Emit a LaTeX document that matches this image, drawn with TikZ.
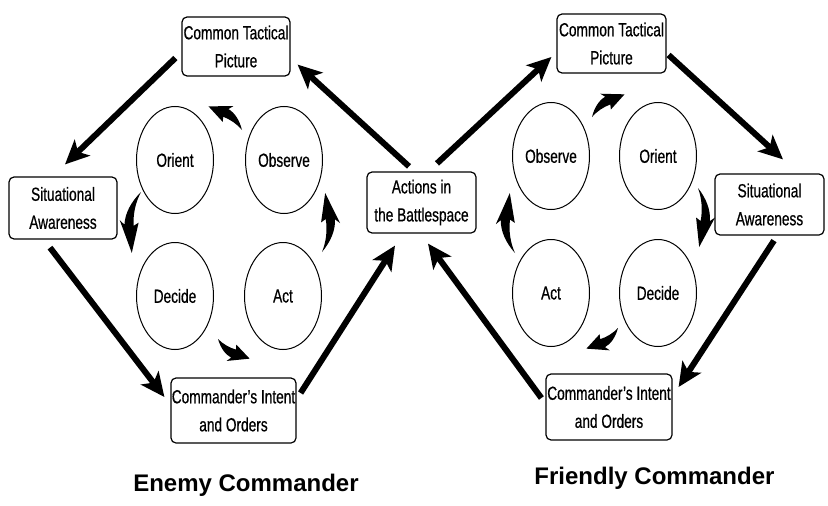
\documentclass[tikz,border=0pt]{standalone}
\usepackage{fontspec}
\usetikzlibrary{calc,arrows.meta,shapes.geometric}
\newfontfamily\nfont[FakeStretch=0.72,FakeBold=0.6]{Liberation Sans}
\newfontfamily\capfont{Liberation Sans}
\tikzset{
 lbl/.style={font={\nfont\fontsize{19}{28}\selectfont}, align=center},
 tbox/.style={lbl, draw, rounded corners=5pt, line width=1.2pt, inner sep=0pt},
 ell/.style={lbl, draw, ellipse, line width=1pt, minimum width=77pt, minimum height=107pt, inner sep=0pt},
 big/.style={line width=6pt, -{Stealth[length=24pt,width=22pt,inset=6pt]}},
 captxt/.style={font={\capfont\bfseries\fontsize{24}{28}\selectfont}}
}
% curved tapered arrow: #1 tail, #2 tip, #3 bulge side angle, #4 opposite angle
\newcommand\swoosh[4]{%
 \fill[black]
  (#1)
  .. controls ($(#1)!0.18!(#2)+(#1)!0.10!#3:(#2)+(#1)!2.5pt!#3:(#2)-2*(#1)$)
  and ($(#1)!0.38!(#2)+(#1)!0.14!#3:(#2)+(#1)!4.5pt!#3:(#2)-2*(#1)$)
  .. ($(#1)!0.56!(#2)+(#1)!0.12!#3:(#2)+(#1)!4.8pt!#3:(#2)-2*(#1)$)
  -- ($(#1)!0.50!(#2)+(#1)!0.12!#3:(#2)+(#1)!10pt!#3:(#2)-2*(#1)$)
  -- ($(#1)!1!(#2)+(#1)!0.02!#3:(#2)-(#1)$)
  -- ($(#1)!0.50!(#2)+(#1)!0.12!#3:(#2)+(#1)!9pt!#4:(#2)-2*(#1)$)
  -- ($(#1)!0.56!(#2)+(#1)!0.12!#3:(#2)+(#1)!4.5pt!#4:(#2)-2*(#1)$)
  .. controls ($(#1)!0.38!(#2)+(#1)!0.14!#3:(#2)+(#1)!3.5pt!#4:(#2)-2*(#1)$)
  and ($(#1)!0.18!(#2)+(#1)!0.10!#3:(#2)+(#1)!2pt!#4:(#2)-2*(#1)$)
  .. (#1) -- cycle;
}
\begin{document}
\begin{tikzpicture}[x=1pt,y=1pt]
\fill[white] (0,0) rectangle (828,-506);
\useasboundingbox (0,0) rectangle (828,-506);
% boxes
\node[tbox, minimum width=108pt, minimum height=59pt] (ctpL) at (236,-46.5) {Common Tactical\\Picture};
\node[tbox, minimum width=108pt, minimum height=62pt] (saL) at (63,-208) {Situational\\Awareness};
\node[tbox, minimum width=109pt, minimum height=61pt] (act) at (421.5,-202.5) {Actions in\\the Battlespace};
\node[tbox, minimum width=125pt, minimum height=65pt] (cioL) at (233.5,-410.5) {Commander’s Intent\\and Orders};
\node[tbox, minimum width=109pt, minimum height=59pt] (ctpR) at (611.5,-43.5) {Common Tactical\\Picture};
\node[tbox, minimum width=109pt, minimum height=61pt] (saR) at (769.5,-204.5) {Situational\\Awareness};
\node[tbox, minimum width=126pt, minimum height=66pt] (cioR) at (609,-407) {Commander’s Intent\\and Orders};
% ellipses
\node[ell] (oriL) at (175,-160) {Orient};
\node[ell] (obsL) at (284,-160) {Observe};
\node[ell] (decL) at (175,-296) {Decide};
\node[ell] (actL) at (283,-296) {Act};
\node[ell] (obsR) at (551,-156) {Observe};
\node[ell] (oriR) at (658,-156) {Orient};
\node[ell] (actR) at (551,-293) {Act};
\node[ell] (decR) at (658,-293) {Decide};
% captions
\node[captxt] (capL) at (246,-485) {Enemy Commander};
\node[captxt] (capR) at (654.5,-478) {Friendly Commander};
% big arrows
\draw[big] ([shift={(-12.5,5)}]act.north) -- ([shift={(7,12)}]ctpL.south east);
\draw[big] ([shift={(-6,-11.5)}]ctpL.west) -- ([shift={(2,12)}]saL.north);
\draw[big] ([shift={(-13,-8)}]saL.south) -- ([shift={(-6,13.5)}]cioL.west);
\draw[big] ([shift={(4,17.5)}]cioL.east) -- ([shift={(-26.5,-12)}]act.south);
\draw[big] ([shift={(15.5,8)}]act.north) -- ([shift={(-5,-13.5)}]ctpR.west);
\draw[big] ([shift={(2,-11.5)}]ctpR.east) -- ([shift={(13.5,14)}]saR.north);
\draw[big] ([shift={(4.5,-5)}]saR.south) -- ([shift={(6,20)}]cioR.east);
\draw[big] ([shift={(-4,9)}]cioR.west) -- ([shift={(6.5,-10)}]act.south);
% small curved arrows
\coordinate (s1t) at (242,-130); \coordinate (s1h) at (208,-107);
\coordinate (s2t) at (141,-192); \coordinate (s2h) at (133,-253);
\coordinate (s3t) at (218,-339); \coordinate (s3h) at (250,-358);
\coordinate (s4t) at (322,-252); \coordinate (s4h) at (324,-193);
\coordinate (s5t) at (592,-117); \coordinate (s5h) at (625,-95);
\coordinate (s6t) at (698,-188); \coordinate (s6h) at (698,-247);
\coordinate (s7t) at (618,-328); \coordinate (s7h) at (586,-348);
\coordinate (s8t) at (515,-253); \coordinate (s8h) at (511,-193);
\swoosh{s1t}{s1h}{-90}{90}
\swoosh{s2t}{s2h}{-90}{90}
\swoosh{s3t}{s3h}{-90}{90}
\swoosh{s4t}{s4h}{-90}{90}
\swoosh{s5t}{s5h}{90}{-90}
\swoosh{s6t}{s6h}{90}{-90}
\swoosh{s7t}{s7h}{90}{-90}
\swoosh{s8t}{s8h}{90}{-90}
\end{tikzpicture}
\end{document}
